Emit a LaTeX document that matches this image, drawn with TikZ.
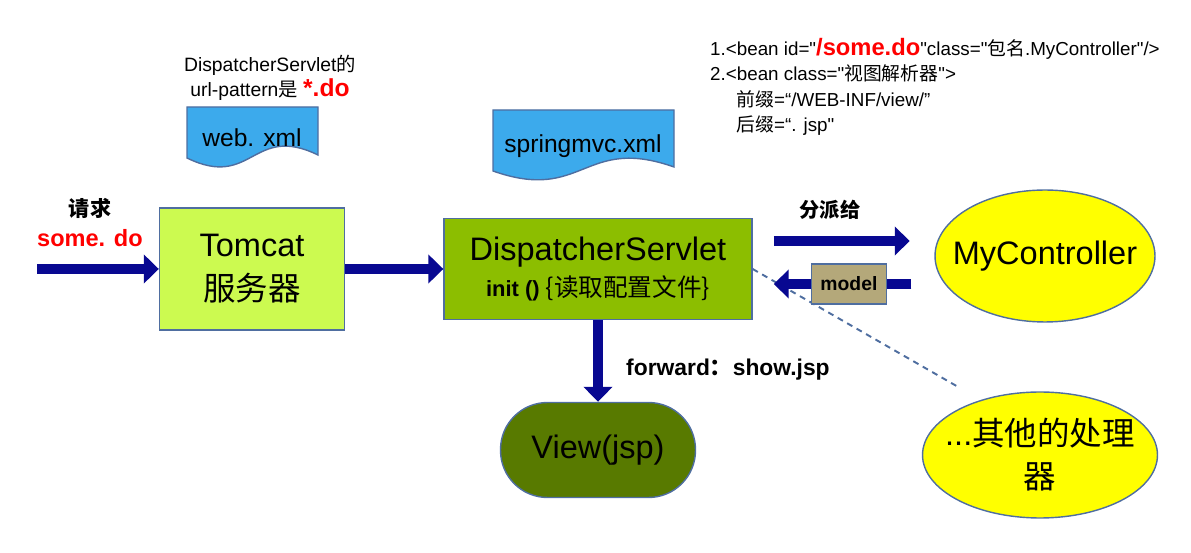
\documentclass[tikz,border=0pt]{standalone}
\usepackage{fontspec}
\setmainfont{Liberation Sans}[Ligatures=TeXOff]
\newfontfamily\cjk{Noto Sans CJK SC}[Ligatures=TeXOff]
\usetikzlibrary{arrows.meta, shapes.geometric, calc, positioning}

\definecolor{tomcatgreen}{RGB}{204,250,80}
\definecolor{dsgreen}{RGB}{140,190,0}
\definecolor{viewgreen}{RGB}{88,122,0}
\definecolor{arrowblue}{RGB}{8,8,145}
\definecolor{edgeblue}{RGB}{79,110,160}
\definecolor{docblue}{RGB}{60,170,236}
\definecolor{modelkhaki}{RGB}{180,168,122}
\definecolor{hotred}{RGB}{255,0,0}
\definecolor{ctrlyellow}{RGB}{255,255,0}

\begin{document}
\begin{tikzpicture}[
		x=0.02cm, y=-0.02cm,
		box/.style={draw=edgeblue, line width=0.8pt, inner sep=0pt, align=center},
		bigtext/.style={font=\fontsize{18.5}{25}\selectfont},
		bigarrow/.style={draw=arrowblue, line width=5.7pt, -{Triangle[length=8.5pt, width=16pt]}},
		docshape/.style={draw=edgeblue, line width=0.8pt, fill=docblue},
		doctext/.style={font=\fontsize{14}{16}\selectfont},
		dashedlink/.style={draw=edgeblue, line width=1.1pt, dash pattern=on 3.4pt off 2.8pt}
		]
		\useasboundingbox (0,0) rectangle (1191,553);
		
		% ==========================================
		% 1. CONFIG DOCUMENTS AND NOTES
		% ==========================================
		% Data format: left / top / right / left bottom / right bottom / text x / text y / name / text
		\foreach \l/\t/\r/\b/\e/\tx/\ty/\nm/\txt in {
			187/107/318/158/155/252/138/webxml/web. xml,
			493/110/674/171/167/583/146/springxml/springmvc.xml%
		} {
			\draw[docshape] (\l,\t) -- (\r,\t) -- (\r,\e)
			.. controls ({(\l+\r)/2},\e-32) and ({(\l+\r)/2},\b+32) .. (\l,\b) -- cycle;
			\node[doctext] (\nm) at (\tx,\ty) {\txt};
		}
		
		\node[align=center, font=\fontsize{11}{14}\selectfont] (webnote) at (270,78)
		{DispatcherServlet{\cjk 的}\\url-pattern{\cjk 是} {\color{hotred}\bfseries\fontsize{14}{14}\selectfont *.do}};
		
		\node[anchor=north west, align=left, font=\fontsize{10.7}{14.5}\selectfont] (beanspec) at (704,32)
		{1.<bean id="{\color{hotred}\bfseries\fontsize{13.5}{14}\selectfont /some.do}"class="{\cjk 包名}.MyController"/>\\
			2.<bean class="{\cjk 视图解析器}">\\
			\hspace*{15pt}{\cjk 前缀}=“/WEB-INF/view/”\\
			\hspace*{15pt}{\cjk 后缀}=“. jsp"};
		
		% ==========================================
		% 2. MAIN BLOCKS
		% ==========================================
		\node[box, fill=tomcatgreen, minimum width=3.7cm, minimum height=2.44cm, bigtext] (tomcat) at (252,269) {Tomcat\\{\cjk 服务器}};
		\node[box, fill=dsgreen, minimum width=6.16cm, minimum height=2.02cm, font=\fontsize{18.5}{19}\selectfont] (ds) at (598,269)
		{DispatcherServlet\\[1pt]{\bfseries\fontsize{12.5}{14}\selectfont init ()~}{\cjk\fontsize{14}{14}\selectfont \{读取配置文件\}}};
		\node[box, fill=viewgreen, minimum width=3.9cm, minimum height=1.9cm, rounded corners=0.94cm, bigtext] (view) at (598,450) {View(jsp)};
		% ellipse size kept fixed: the text gets no width
		\node[box, ellipse, fill=ctrlyellow, minimum width=4.4cm, minimum height=2.64cm, bigtext] (ctrl) at (1045,256) {\makebox[0pt]{MyController}};
		\node[box, ellipse, fill=ctrlyellow, minimum width=4.7cm, minimum height=2.52cm, font=\fontsize{18.5}{24.5}\selectfont] (other) at (1040,455)
		{\makebox[0pt]{...{\cjk 其他的处理}}\\\makebox[0pt]{\cjk 器}};
		
		% ==========================================
		% 3. CONNECTORS
		% ==========================================
		\coordinate (reqstart) at (37,269);
		\coordinate (dashend) at (960,388);
		
		\draw[dashedlink] (ds.east) -- (dashend);
		
		\draw[bigarrow] (reqstart) -- (tomcat.west);
		\draw[bigarrow] (tomcat) -- (ds);
		\draw[bigarrow] (ds) -- (view);
		
		% dispatch to the controller, model back
		\draw[bigarrow, shorten <=12pt, shorten >=14pt] ($(ds.east|-ctrl.center)+(0,-15)$) -- ($(ctrl.west)+(0,-15)$);
		\draw[bigarrow, shorten <=13pt, shorten >=12pt] ($(ctrl.west)+(0,28)$) -- ($(ds.east|-ctrl.center)+(0,28)$)
		node[box, pos=0.47, fill=modelkhaki, minimum width=1.5cm, minimum height=0.8cm, font=\bfseries\fontsize{11}{13}\selectfont] (model) {model};
		
		% ==========================================
		% 4. CONNECTOR LABELS
		% ==========================================
		\node[font=\cjk\bfseries\fontsize{12}{14}\selectfont] (reqlabel) at (90,208) {请求};
		\node[text=hotred, font=\bfseries\fontsize{13.4}{15}\selectfont] (requrl) at (90,238) {some. do};
		\node[font=\cjk\bfseries\fontsize{11.5}{14}\selectfont] (dispatchlabel) at (830,210) {分派给};
		\node[anchor=west, font=\bfseries\fontsize{13}{15}\selectfont] (fwdlabel) at (620,370) {forward{\cjk ：}show.jsp};
		
	\end{tikzpicture}
\end{document}
